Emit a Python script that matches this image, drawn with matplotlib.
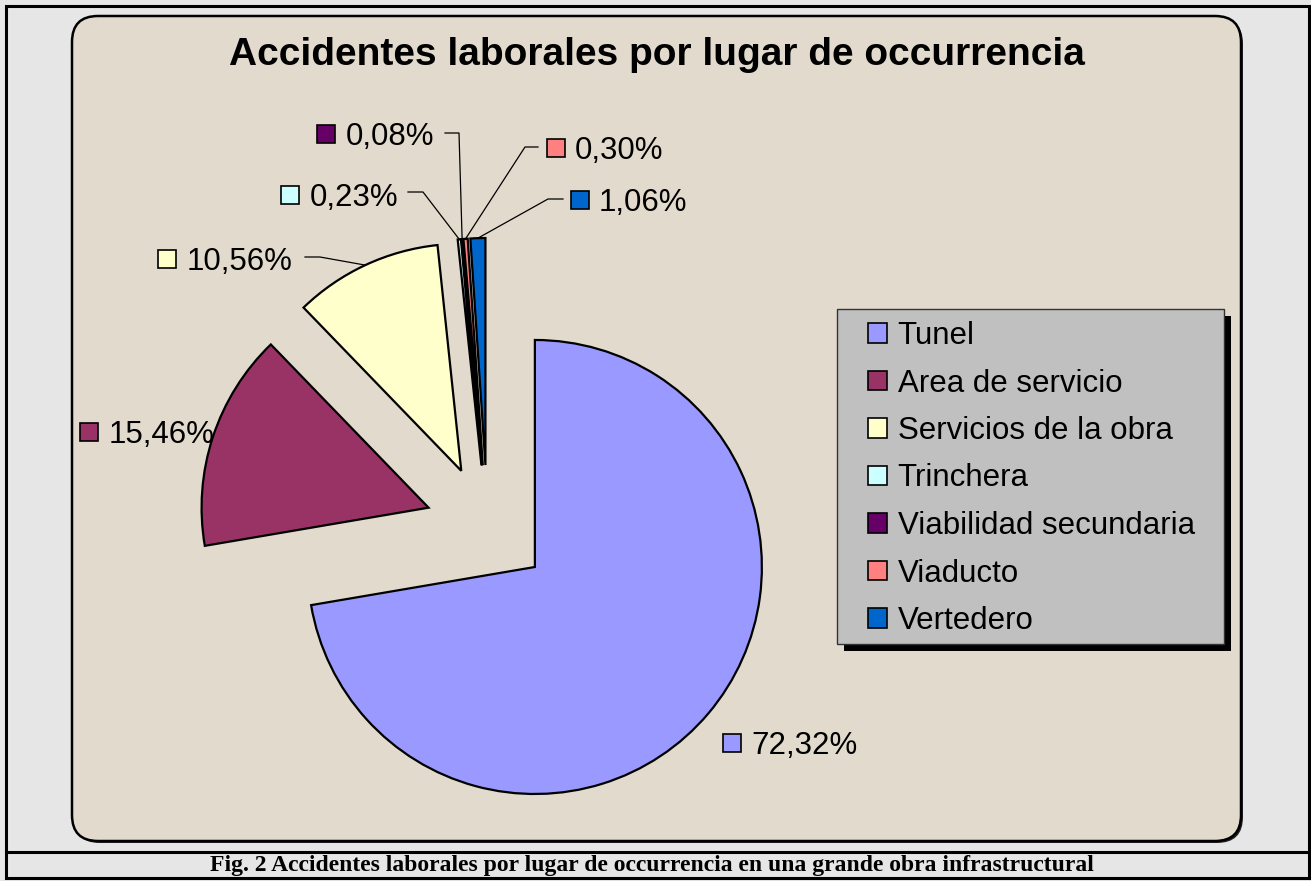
import numpy as np
import matplotlib
matplotlib.use("Agg")
import matplotlib.pyplot as plt
from matplotlib.patches import FancyBboxPatch, Rectangle
from matplotlib.transforms import IdentityTransform
from matplotlib.lines import Line2D

# ---------------- data ----------------
categories = ["Tunel", "Area de servicio", "Servicios de la obra", "Trinchera",
              "Viabilidad secundaria", "Viaducto", "Vertedero"]
values = [72.32, 15.46, 10.56, 0.23, 0.08, 0.30, 1.06]
value_labels = ["72,32%", "15,46%", "10,56%", "0,23%", "0,08%", "0,30%", "1,06%"]
colors = ["#9999ff", "#993366", "#ffffcc", "#ccffff", "#660066", "#ff8080", "#0066cc"]

title = "Accidentes laborales por lugar de occurrencia"
caption = "Fig. 2 Accidentes laborales por lugar de occurrencia en una grande obra infrastructural"

# ---------------- layout (pixels, top-left origin) ----------------
W, H = 1311, 881
CX, CY, S = 487.5, 527.0, 227.0      # pie centre and radius in px
EXPLODE = 62.0 / S

# label square centres
label_pos = [(732, 743), (89.5, 432), (167, 259), (290, 194.5),
             (326, 134), (555.5, 148), (579.5, 200)]
# leader-line start/elbow (None = no leader)
leaders = [None, None, ((305, 257), (320, 257)), ((408, 192), (423, 192)),
           ((445, 133), (459, 133)), ((538, 147), (525, 147)),
           ((563, 199), (548, 199))]

SANS = "Liberation Sans"
SERIF = "Liberation Serif"

fig = plt.figure(figsize=(W / 100, H / 100), dpi=100)
fig.patch.set_facecolor("#e6e6e6")

def disp(x, y):
    return x, H - y

# outer frame and separator
fig.patches.append(Rectangle(disp(6, 878), 1303, 872, transform=IdentityTransform(),
                             facecolor="none", edgecolor="black", linewidth=2.2,
                             figure=fig, zorder=0.2))
fig.lines.append(Line2D([6, 1309], [H - 852, H - 852], transform=IdentityTransform(),
                        color="black", linewidth=2.2, figure=fig, zorder=0.2))

# chart area (rounded)
x0, y0, x1, y1 = 72, 16, 1241, 841
fig.patches.append(FancyBboxPatch(disp(x0 + 2, y1 + 2), x1 - x0, y1 - y0,
                                  boxstyle="round,pad=0,rounding_size=26",
                                  transform=IdentityTransform(), facecolor="#222222",
                                  edgecolor="none", figure=fig, zorder=0.3))
fig.patches.append(FancyBboxPatch(disp(x0, y1), x1 - x0, y1 - y0,
                                  boxstyle="round,pad=0,rounding_size=26",
                                  transform=IdentityTransform(), facecolor="#e2dbcd",
                                  edgecolor="black", linewidth=1.8, figure=fig, zorder=0.5))

# legend box with shadow
lx0, ly0, lx1, ly1 = 837, 309, 1224, 644
fig.patches.append(Rectangle(disp(lx0 + 7, ly1 + 7), lx1 - lx0, ly1 - ly0,
                             transform=IdentityTransform(), facecolor="black",
                             edgecolor="none", figure=fig, zorder=1))
fig.patches.append(Rectangle(disp(lx0, ly1), lx1 - lx0, ly1 - ly0,
                             transform=IdentityTransform(), facecolor="#c0c0c0",
                             edgecolor="#333333", linewidth=1.0, figure=fig, zorder=1.5))

# pie axes: data unit == S px, centre at (0, 0)
ax = fig.add_axes([x0 / W, (H - y1) / H, (x1 - x0) / W, (y1 - y0) / H])
ax.set_zorder(2)
ax.patch.set_visible(False)

wedges, _ = ax.pie(values, colors=colors, startangle=90, counterclock=False,
                   explode=[EXPLODE] * len(values), radius=1.0,
                   wedgeprops=dict(edgecolor="black", linewidth=1.6))
ax.set_aspect("auto")
ax.set_xlim((x0 - CX) / S, (x1 - CX) / S)
ax.set_ylim((CY - y1) / S, (CY - y0) / S)
ax.axis("off")

def d(xp, yp):
    return (xp - CX) / S, (CY - yp) / S

for i, w in enumerate(wedges):
    sx, sy = label_pos[i]
    dx, dy = d(sx, sy)
    ax.plot([dx], [dy], marker="s", markersize=13.5, markerfacecolor=colors[i],
            markeredgecolor="black", markeredgewidth=1.2, clip_on=False, zorder=5)
    tx, ty = d(sx + 19.5, sy + 11.0)
    ax.text(tx, ty, value_labels[i], fontsize=22.5, family=SANS, ha="left",
            va="baseline", zorder=5)
    if leaders[i] is not None:
        th = np.deg2rad((w.theta1 + w.theta2) / 2)
        cxw, cyw = w.center
        ex, ey = cxw + np.cos(th), cyw + np.sin(th)
        (ax1, ay1), (ax2, ay2) = leaders[i]
        p1 = d(ax1, ay1)
        p2 = d(ax2, ay2)
        ax.plot([p1[0], p2[0], ex], [p1[1], p2[1], ey], color="black",
                linewidth=0.9, zorder=4, clip_on=False)

# title
fig.text(657 / W, (H - 55) / H, title, fontsize=28, fontweight="bold", family=SANS,
         ha="center", va="center", zorder=3)

leg = fig.legend(wedges, categories, loc="upper left",
                 bbox_to_anchor=(868 / W, (H - 321) / H), frameon=False,
                 prop=dict(family=SANS, size=22.5), handlelength=0.6,
                 handleheight=0.6, handletextpad=0.35, labelspacing=0.56,
                 borderpad=0, borderaxespad=0)
for h in leg.legend_handles:
    h.set_linewidth(1.2)
leg.set_zorder(3)

# caption
fig.text(652 / W, (H - 865.5) / H, caption, fontsize=17, fontweight="bold", family=SERIF,
         ha="center", va="center", zorder=3)

fig.savefig("out.png", dpi=100, facecolor=fig.get_facecolor())
